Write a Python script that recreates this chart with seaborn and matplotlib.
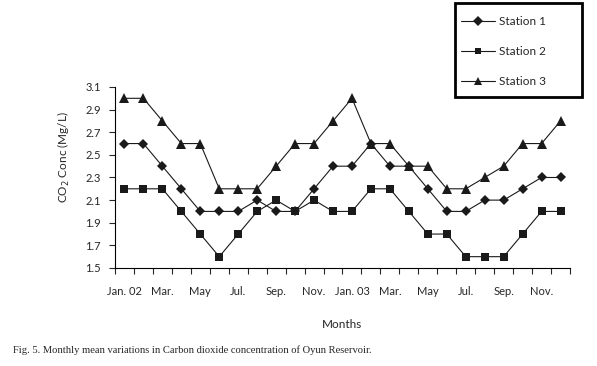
import numpy as np
import pandas as pd
import seaborn as sns
import matplotlib.pyplot as plt
from matplotlib.ticker import FixedLocator
from matplotlib.lines import Line2D
from matplotlib.patches import Rectangle

months = ["Jan. 02", "Feb", "Mar.", "Apr", "May", "Jun", "Jul.", "Aug", "Sep.", "Oct", "Nov.", "Dec",
          "Jan. 03", "Feb", "Mar.", "Apr", "May", "Jun", "Jul.", "Aug", "Sep.", "Oct", "Nov.", "Dec"]
station1 = [2.6, 2.6, 2.4, 2.2, 2.0, 2.0, 2.0, 2.1, 2.0, 2.0, 2.2, 2.4,
            2.4, 2.6, 2.4, 2.4, 2.2, 2.0, 2.0, 2.1, 2.1, 2.2, 2.3, 2.3]
station2 = [2.2, 2.2, 2.2, 2.0, 1.8, 1.6, 1.8, 2.0, 2.1, 2.0, 2.1, 2.0,
            2.0, 2.2, 2.2, 2.0, 1.8, 1.8, 1.6, 1.6, 1.6, 1.8, 2.0, 2.0]
station3 = [3.0, 3.0, 2.8, 2.6, 2.6, 2.2, 2.2, 2.2, 2.4, 2.6, 2.6, 2.8,
            3.0, 2.6, 2.6, 2.4, 2.4, 2.2, 2.2, 2.3, 2.4, 2.6, 2.6, 2.8]
y_ticks = [1.5, 1.7, 1.9, 2.1, 2.3, 2.5, 2.7, 2.9, 3.1]

sns.set_style("ticks")
plt.rcParams['font.family'] = ['Lato', 'DejaVu Sans']

fig = plt.figure(figsize=(5.97, 3.66), dpi=100)
ax = fig.add_axes([0.1926, 0.2678, 0.7622, 0.4945])

series = [("Station 1", station1, "D", 5.5), ("Station 2", station2, "s", 5.5), ("Station 3", station3, "^", 7)]
idx = np.arange(len(months))
for name, vals, mk, ms in series:
    sns.lineplot(x=idx, y=vals, color="#1a1a1a", marker=mk, markersize=ms, markeredgewidth=0,
                 linewidth=0.8, ax=ax)

ax.set_xlim(-0.5, len(months) - 0.5)
ax.set_ylim(1.5, 3.1)
ax.set_yticks(y_ticks)
ax.set_yticklabels([f"{t:.1f}" for t in y_ticks])
ax.set_xticks(range(0, len(months), 2))
ax.set_xticklabels(months[::2])
ax.xaxis.set_minor_locator(FixedLocator(np.arange(-0.5, len(months), 1)))
ax.tick_params(axis="x", which="major", length=0, pad=13, labelsize=8)
ax.tick_params(axis="x", which="minor", length=4, width=0.8, direction="out")
ax.tick_params(axis="y", length=4, width=0.8, labelsize=8, pad=6)
for s in ["top", "right"]:
    ax.spines[s].set_visible(False)
for s in ["left", "bottom"]:
    ax.spines[s].set_linewidth(0.8)
    ax.spines[s].set_color("black")

ax.set_xlabel("Months", fontsize=8.5, labelpad=16)
ax.set_ylabel("CO$_2$ Conc (Mg/L)", fontsize=8.5)
ax.yaxis.set_label_coords(-0.094, 0.61)

# legend box drawn separately so the padding can be uneven like the original
fig.patches.append(Rectangle((455 / 597, 1 - 97 / 366), 127 / 597, 94 / 366, transform=fig.transFigure,
                             fill=False, edgecolor="black", linewidth=2))
handles = [Line2D([], [], color="#1a1a1a", lw=0.8, marker=mk, markersize=ms - 0.8, markeredgewidth=0)
           for _, _, mk, ms in series]
leg = fig.legend(handles, [s[0] for s in series], loc="upper left",
                 bbox_to_anchor=(461 / 597, 1 - 16 / 366), fontsize=8.5, frameon=False,
                 labelspacing=1.6, handlelength=2.9, borderpad=0, borderaxespad=0, handletextpad=0.3)

fig.text(13 / 597, 1 - 350 / 366, "Fig. 5. Monthly mean variations in Carbon dioxide concentration of Oyun Reservoir.",
         fontsize=7.6, family="Liberation Serif", va="center")

fig.savefig("out.png", dpi=100)
